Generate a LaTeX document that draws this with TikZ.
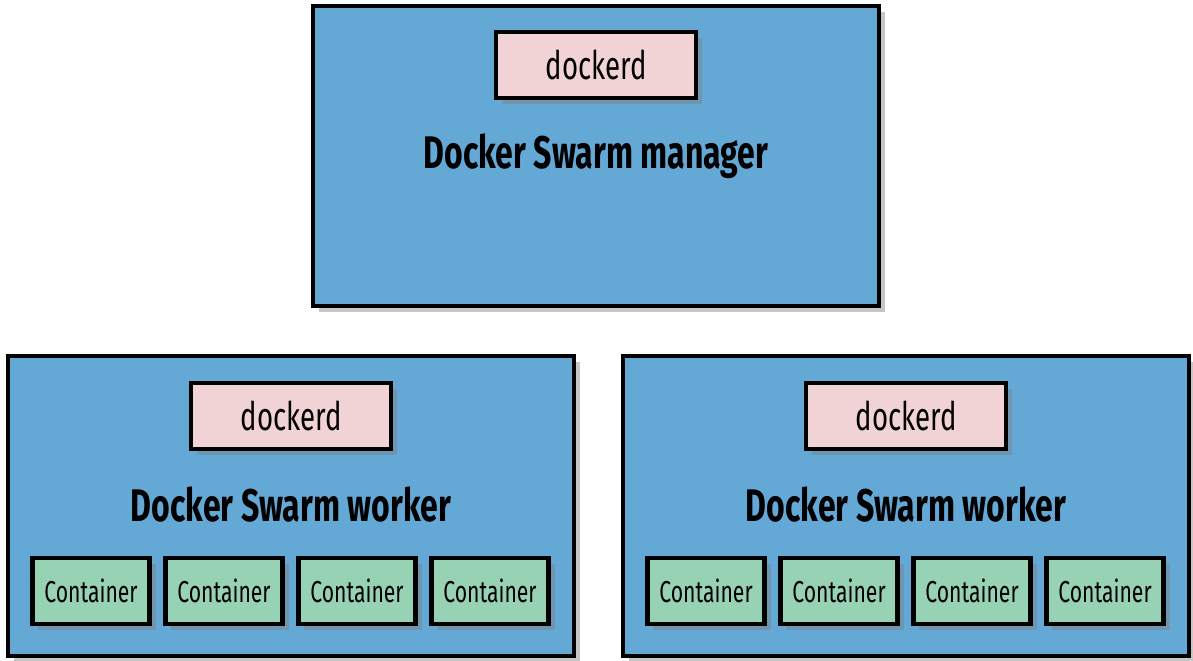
\documentclass[tikz,border=0pt]{standalone}
\usepackage{fontspec}
\setmainfont{Fira Sans}[FakeStretch=0.7]
\usetikzlibrary{shadows}
\definecolor{swarmblue}{HTML}{64A8D6}
\definecolor{daemonpink}{HTML}{F2D3D5}
\definecolor{boxgreen}{HTML}{98D2B5}
\begin{document}
\begin{tikzpicture}[x=0.01cm, y=-0.01cm,
    every node/.style={inner sep=0pt, outer sep=0pt},
    framed/.style={draw=black, line width=1.2pt,
      drop shadow={shadow xshift=0.6mm, shadow yshift=-0.6mm, opacity=0.45}},
    hostbox/.style={framed, fill=swarmblue, minimum width=5.66cm, minimum height=3.0cm},
    daemon/.style={framed, fill=daemonpink, minimum width=2.0cm, minimum height=0.66cm,
      font=\fontsize{11.2}{14}\selectfont},
    ctr/.style={framed, fill=boxgreen, minimum width=1.17cm, minimum height=0.66cm,
      font=\fontsize{8.6}{11}\selectfont},
    role/.style={font=\fontsize{13}{15}\selectfont\bfseries}]
  \useasboundingbox (0,0) rectangle (1193,661);
  % manager
  \node[hostbox, minimum height=3.0cm] (mgr) at (596,156) {};
  \node[daemon] (mgrd) at (596,65) {dockerd};
  \node[role] (mgrt) at (596,156) {Docker Swarm manager};
  % workers
  \foreach \w/\cx in {left/291, right/906} {
    \node[hostbox] (\w) at (\cx,506) {};
    \node[daemon] (\w d) at (\cx,416) {dockerd};
    \node[role] (\w t) at (\cx,505) {Docker Swarm worker};
    \foreach \i in {0,...,3}
      \node[ctr] (\w c\i) at ({\cx-200+133*\i},591) {Container};
  }
\end{tikzpicture}
\end{document}
